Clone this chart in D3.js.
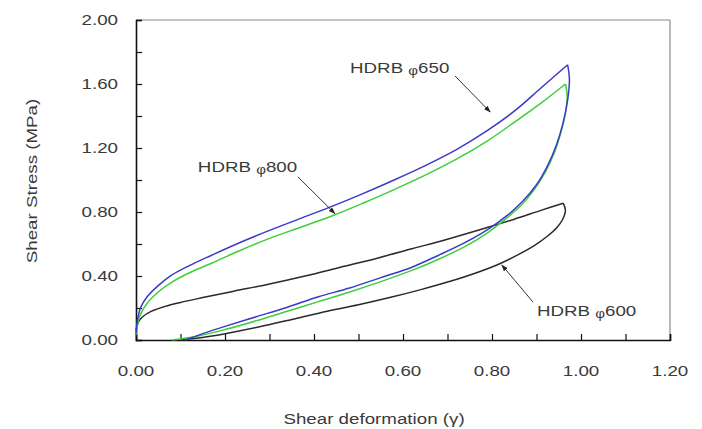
<!DOCTYPE html>
<html>
<head>
<meta charset="utf-8">
<script src="https://cdn.jsdelivr.net/npm/d3@7"></script>
<style>
  body { margin: 0; background: #fff; }
  text { font-family: "Liberation Sans", Arial, sans-serif; fill: #3a3a3a; }
</style>
</head>
<body>
<svg id="chart" width="702" height="429"></svg>
<script>
// hysteresis loops: loading branch then unloading branch
const blueUp = [[0,0.04],[0.003,0.12],[0.01,0.2],[0.025,0.27],[0.05,0.34],[0.08,0.405],[0.12,0.465],[0.17,0.53],[0.23,0.605],[0.3,0.685],[0.37,0.76],[0.44,0.835],[0.51,0.915],[0.58,1.0],[0.65,1.09],[0.72,1.19],[0.79,1.31],[0.85,1.43],[0.91,1.575],[0.97,1.72]]
const blueDown = [[0.97,1.72],[0.974,1.63],[0.97,1.5],[0.96,1.36],[0.945,1.22],[0.925,1.09],[0.9,0.97],[0.87,0.87],[0.835,0.78],[0.79,0.69],[0.74,0.61],[0.68,0.53],[0.62,0.455],[0.55,0.39],[0.48,0.325],[0.41,0.27],[0.34,0.205],[0.27,0.145],[0.2,0.085],[0.15,0.04],[0.11,0.0]]
const greenUp = [[0,0.03],[0.003,0.09],[0.01,0.16],[0.025,0.23],[0.05,0.3],[0.08,0.36],[0.12,0.42],[0.17,0.48],[0.23,0.555],[0.3,0.635],[0.37,0.705],[0.44,0.775],[0.51,0.855],[0.58,0.94],[0.65,1.03],[0.72,1.13],[0.79,1.245],[0.85,1.36],[0.91,1.48],[0.965,1.6]]
const greenDown = [[0.965,1.6],[0.969,1.53],[0.965,1.42],[0.955,1.3],[0.94,1.17],[0.92,1.05],[0.895,0.94],[0.865,0.84],[0.83,0.755],[0.79,0.67],[0.74,0.585],[0.68,0.505],[0.62,0.435],[0.55,0.365],[0.48,0.3],[0.41,0.24],[0.34,0.18],[0.27,0.12],[0.2,0.065],[0.14,0.025],[0.08,0]]
const blackUp = [[0,0.06],[0.005,0.11],[0.015,0.145],[0.035,0.18],[0.065,0.21],[0.1,0.235],[0.15,0.265],[0.22,0.305],[0.3,0.35],[0.38,0.4],[0.46,0.455],[0.54,0.51],[0.62,0.57],[0.7,0.63],[0.78,0.695],[0.85,0.755],[0.91,0.81],[0.96,0.855]]
const blackDown = [[0.96,0.855],[0.965,0.81],[0.958,0.75],[0.945,0.7],[0.925,0.65],[0.895,0.59],[0.86,0.535],[0.82,0.48],[0.77,0.425],[0.71,0.37],[0.64,0.315],[0.57,0.265],[0.5,0.22],[0.43,0.18],[0.36,0.135],[0.29,0.09],[0.22,0.05],[0.16,0.02],[0.1,0]]

const xTicks = [0, 0.2, 0.4, 0.6, 0.8, 1.0, 1.2]
const yTicks = [0, 0.4, 0.8, 1.2, 1.6, 2.0]

// label text, where it starts, and where its arrow runs (data units)
const labels = [
  {text: "650", at: [0.481, 1.669], from: [0.717, 1.65], to: [0.796, 1.425]},
  {text: "800", at: [0.139, 1.05], from: [0.364, 1.019], to: [0.447, 0.79]},
  {text: "600", at: [0.901, 0.15], from: [0.892, 0.2375], to: [0.822, 0.469]}
]

const svg = d3.select("#chart")
const mLeft = 136, mRight = 670, mTop = 20, mBottom = 340
const sx = 1.25 // the source font is wide

var x = d3.scaleLinear().domain([0, 1.2]).range([mLeft, mRight])
var y = d3.scaleLinear().domain([0, 2.0]).range([mBottom, mTop])

function wideText(g, px, py, str, anchor, rot) {
  return g.append("text")
    .attr("transform", "translate(" + px + "," + py + ")" + (rot ? " rotate(" + rot + ")" : "") + " scale(" + sx + ",1)")
    .attr("text-anchor", anchor)
    .style("font-size", "15px")
    .text(str)
}

// frame: grey top/right, black axes
svg.append("line").attr("x1", mLeft).attr("x2", mRight).attr("y1", mTop).attr("y2", mTop)
  .attr("stroke", "#8a8a8a").attr("stroke-width", 1.2)
svg.append("line").attr("x1", mRight).attr("x2", mRight).attr("y1", mTop).attr("y2", mBottom)
  .attr("stroke", "#8a8a8a").attr("stroke-width", 1.2)

// minor ticks inside the plot
var yAxis = d3.axisRight(y).tickValues(d3.range(0, 2.01, 0.2)).tickSize(6).tickFormat("")
svg.append("g").attr("transform", "translate(" + mLeft + ",0)").call(yAxis)
  .call(g => g.select(".domain").attr("stroke", "#111").attr("stroke-width", 1.6))
  .call(g => g.selectAll(".tick line").attr("stroke", "#111").attr("stroke-width", 1.2))

var xAxis = d3.axisTop(x).tickValues(d3.range(0, 1.201, 0.1)).tickSize(6).tickFormat("")
svg.append("g").attr("transform", "translate(0," + mBottom + ")").call(xAxis)
  .call(g => g.select(".domain").attr("stroke", "#111").attr("stroke-width", 1.6))
  .call(g => g.selectAll(".tick line").attr("stroke", "#111").attr("stroke-width", 1.2))

// tick labels
yTicks.forEach(function(v) {
  wideText(svg, 118, y(v) + 5, v.toFixed(2), "end")
})
xTicks.forEach(function(v) {
  wideText(svg, x(v), 376, v.toFixed(2), "middle")
})

wideText(svg, 374, 424, "Shear deformation (γ)", "middle")
wideText(svg, 37, 181, "Shear Stress (MPa)", "middle", -90)

// loops
var line = d3.line().x(d => x(d[0])).y(d => y(d[1])).curve(d3.curveCatmullRom.alpha(0.5))
var series = [
  {up: blackUp, down: blackDown, color: "#2a2a2a"},
  {up: greenUp, down: greenDown, color: "#3ccf3c"},
  {up: blueUp, down: blueDown, color: "#3a3ac8"}
]
series.forEach(function(s) {
  [s.up, s.down].forEach(function(pts) {
    svg.append("path").datum(pts).attr("d", line)
      .attr("fill", "none").attr("stroke", s.color).attr("stroke-width", 1.5)
      .attr("stroke-linejoin", "round")
  })
})

// arrowhead
svg.append("defs").append("marker")
  .attr("id", "arrow").attr("viewBox", "0 0 10 10").attr("refX", 9).attr("refY", 5)
  .attr("markerWidth", 7).attr("markerHeight", 7).attr("orient", "auto")
  .append("path").attr("d", "M0,1.5L10,5L0,8.5z").attr("fill", "#222")

labels.forEach(function(l) {
  svg.append("line")
    .attr("x1", x(l.from[0])).attr("y1", y(l.from[1]))
    .attr("x2", x(l.to[0])).attr("y2", y(l.to[1]))
    .attr("stroke", "#333").attr("stroke-width", 1)
    .attr("marker-end", "url(#arrow)")
  var t = wideText(svg, x(l.at[0]), y(l.at[1]), "HDRB ", "start")
  t.append("tspan").style("font-size", "12px").attr("dy", 2).text("φ")
  t.append("tspan").attr("dy", -2).text(l.text)
})
</script>
</body>
</html>
